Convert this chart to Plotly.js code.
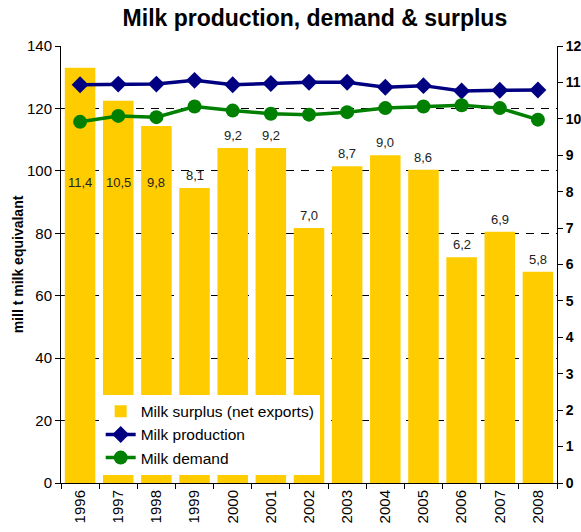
<!DOCTYPE html>
<html><head><meta charset="utf-8">
<script src="https://cdn.plot.ly/plotly-3.0.1.min.js"></script>
<style>body{margin:0;background:#fff}#c{width:581px;height:532px}</style>
</head><body><div id="c"></div>
<script>
const years = ['1996','1997','1998','1999','2000','2001','2002','2003','2004','2005','2006','2007','2008'];
const surplus = [11.4,10.5,9.8,8.1,9.2,9.2,7.0,8.7,9.0,8.6,6.2,6.9,5.8];
const production = [127.6,127.8,127.8,129.0,127.6,128.0,128.4,128.4,126.8,127.3,125.6,125.8,125.9];
const demand = [115.7,117.6,117.2,120.6,119.3,118.3,118.0,118.8,120.1,120.6,121.0,120.1,116.4];
const surplusLabels = surplus.map(v => v.toFixed(1).replace('.', ','));
const insideLabelLevel = 8.26; // label level used for bars whose labels sit under the lines
const lowered = [true,true,true,false,false,false,false,false,false,false,false,false,false];

const F = 'Liberation Sans, Arial, sans-serif';
const traces = [
  {type:'bar', name:'Milk surplus (net exports)', x:years, y:surplus, yaxis:'y',
   marker:{color:'#FFCC00'}, hoverinfo:'skip'},
  {type:'scatter', mode:'lines+markers', name:'Milk production', x:years, y:production, yaxis:'y2',
   line:{color:'#000080', width:3.5}, marker:{symbol:'diamond', size:13, color:'#000080'}},
  {type:'scatter', mode:'lines+markers', name:'Milk demand', x:years, y:demand, yaxis:'y2',
   line:{color:'#008000', width:3.5}, marker:{symbol:'circle', size:14, color:'#008000'}}
];
const annotations = years.map((yr,i) => lowered[i]
  ? {x:i, y:insideLabelLevel, xref:'x', yref:'y', text:surplusLabels[i], showarrow:false, yanchor:'middle',
     font:{family:F, size:13, color:'#222'}}
  : {x:i, y:surplus[i], xref:'x', yref:'y', text:surplusLabels[i], showarrow:false, yanchor:'bottom', yshift:3,
     font:{family:F, size:13, color:'#222'}});
const layout = {
  width:581, height:532,
  margin:{l:61, r:24, t:46, b:49},
  paper_bgcolor:'#fff', plot_bgcolor:'#fff',
  font:{family:F, color:'#000'},
  title:{text:'<b>Milk production, demand & surplus</b>', x:0.542, xanchor:'center', y:0.967, yanchor:'middle',
         font:{family:F, size:23, color:'#000'}},
  bargap:0.2,
  showlegend:true,
  legend:{x:0.08, y:0.202, xanchor:'left', yanchor:'top', bgcolor:'#fff', borderwidth:0,
          font:{family:F, size:15.5, color:'#000'}, tracegroupgap:0, itemwidth:30},
  xaxis:{type:'category', range:[-0.5,12.5], showline:true, linecolor:'#000', linewidth:1, ticks:'outside', ticklen:5,
         tickson:'boundaries', tickcolor:'#000', tickangle:-90, tickfont:{family:F, size:15, color:'#000'},
         showgrid:false, zeroline:false},
  yaxis:{side:'right', range:[0,12], dtick:1, showline:true, linecolor:'#000', linewidth:1, ticks:'outside',
         ticklen:5, tickcolor:'#000', showgrid:false, zeroline:false,
         tickfont:{family:F, size:14, color:'#000', weight:'bold'}},
  yaxis2:{side:'left', overlaying:'y', range:[0,140], dtick:20, showline:true, linecolor:'#000', linewidth:1,
          ticks:'outside', ticklen:5, tickcolor:'#000', zeroline:false,
          showgrid:true, gridcolor:'#000', gridwidth:1, griddash:'8px,7px',
          tickfont:{family:F, size:15, color:'#000'},
          title:{text:'<b>mill t milk equivalant</b>', font:{family:F, size:14, color:'#000'}, standoff:0}},
  annotations:annotations
};
Plotly.newPlot('c', traces, layout, {staticPlot:true, displayModeBar:false});
</script></body></html>
